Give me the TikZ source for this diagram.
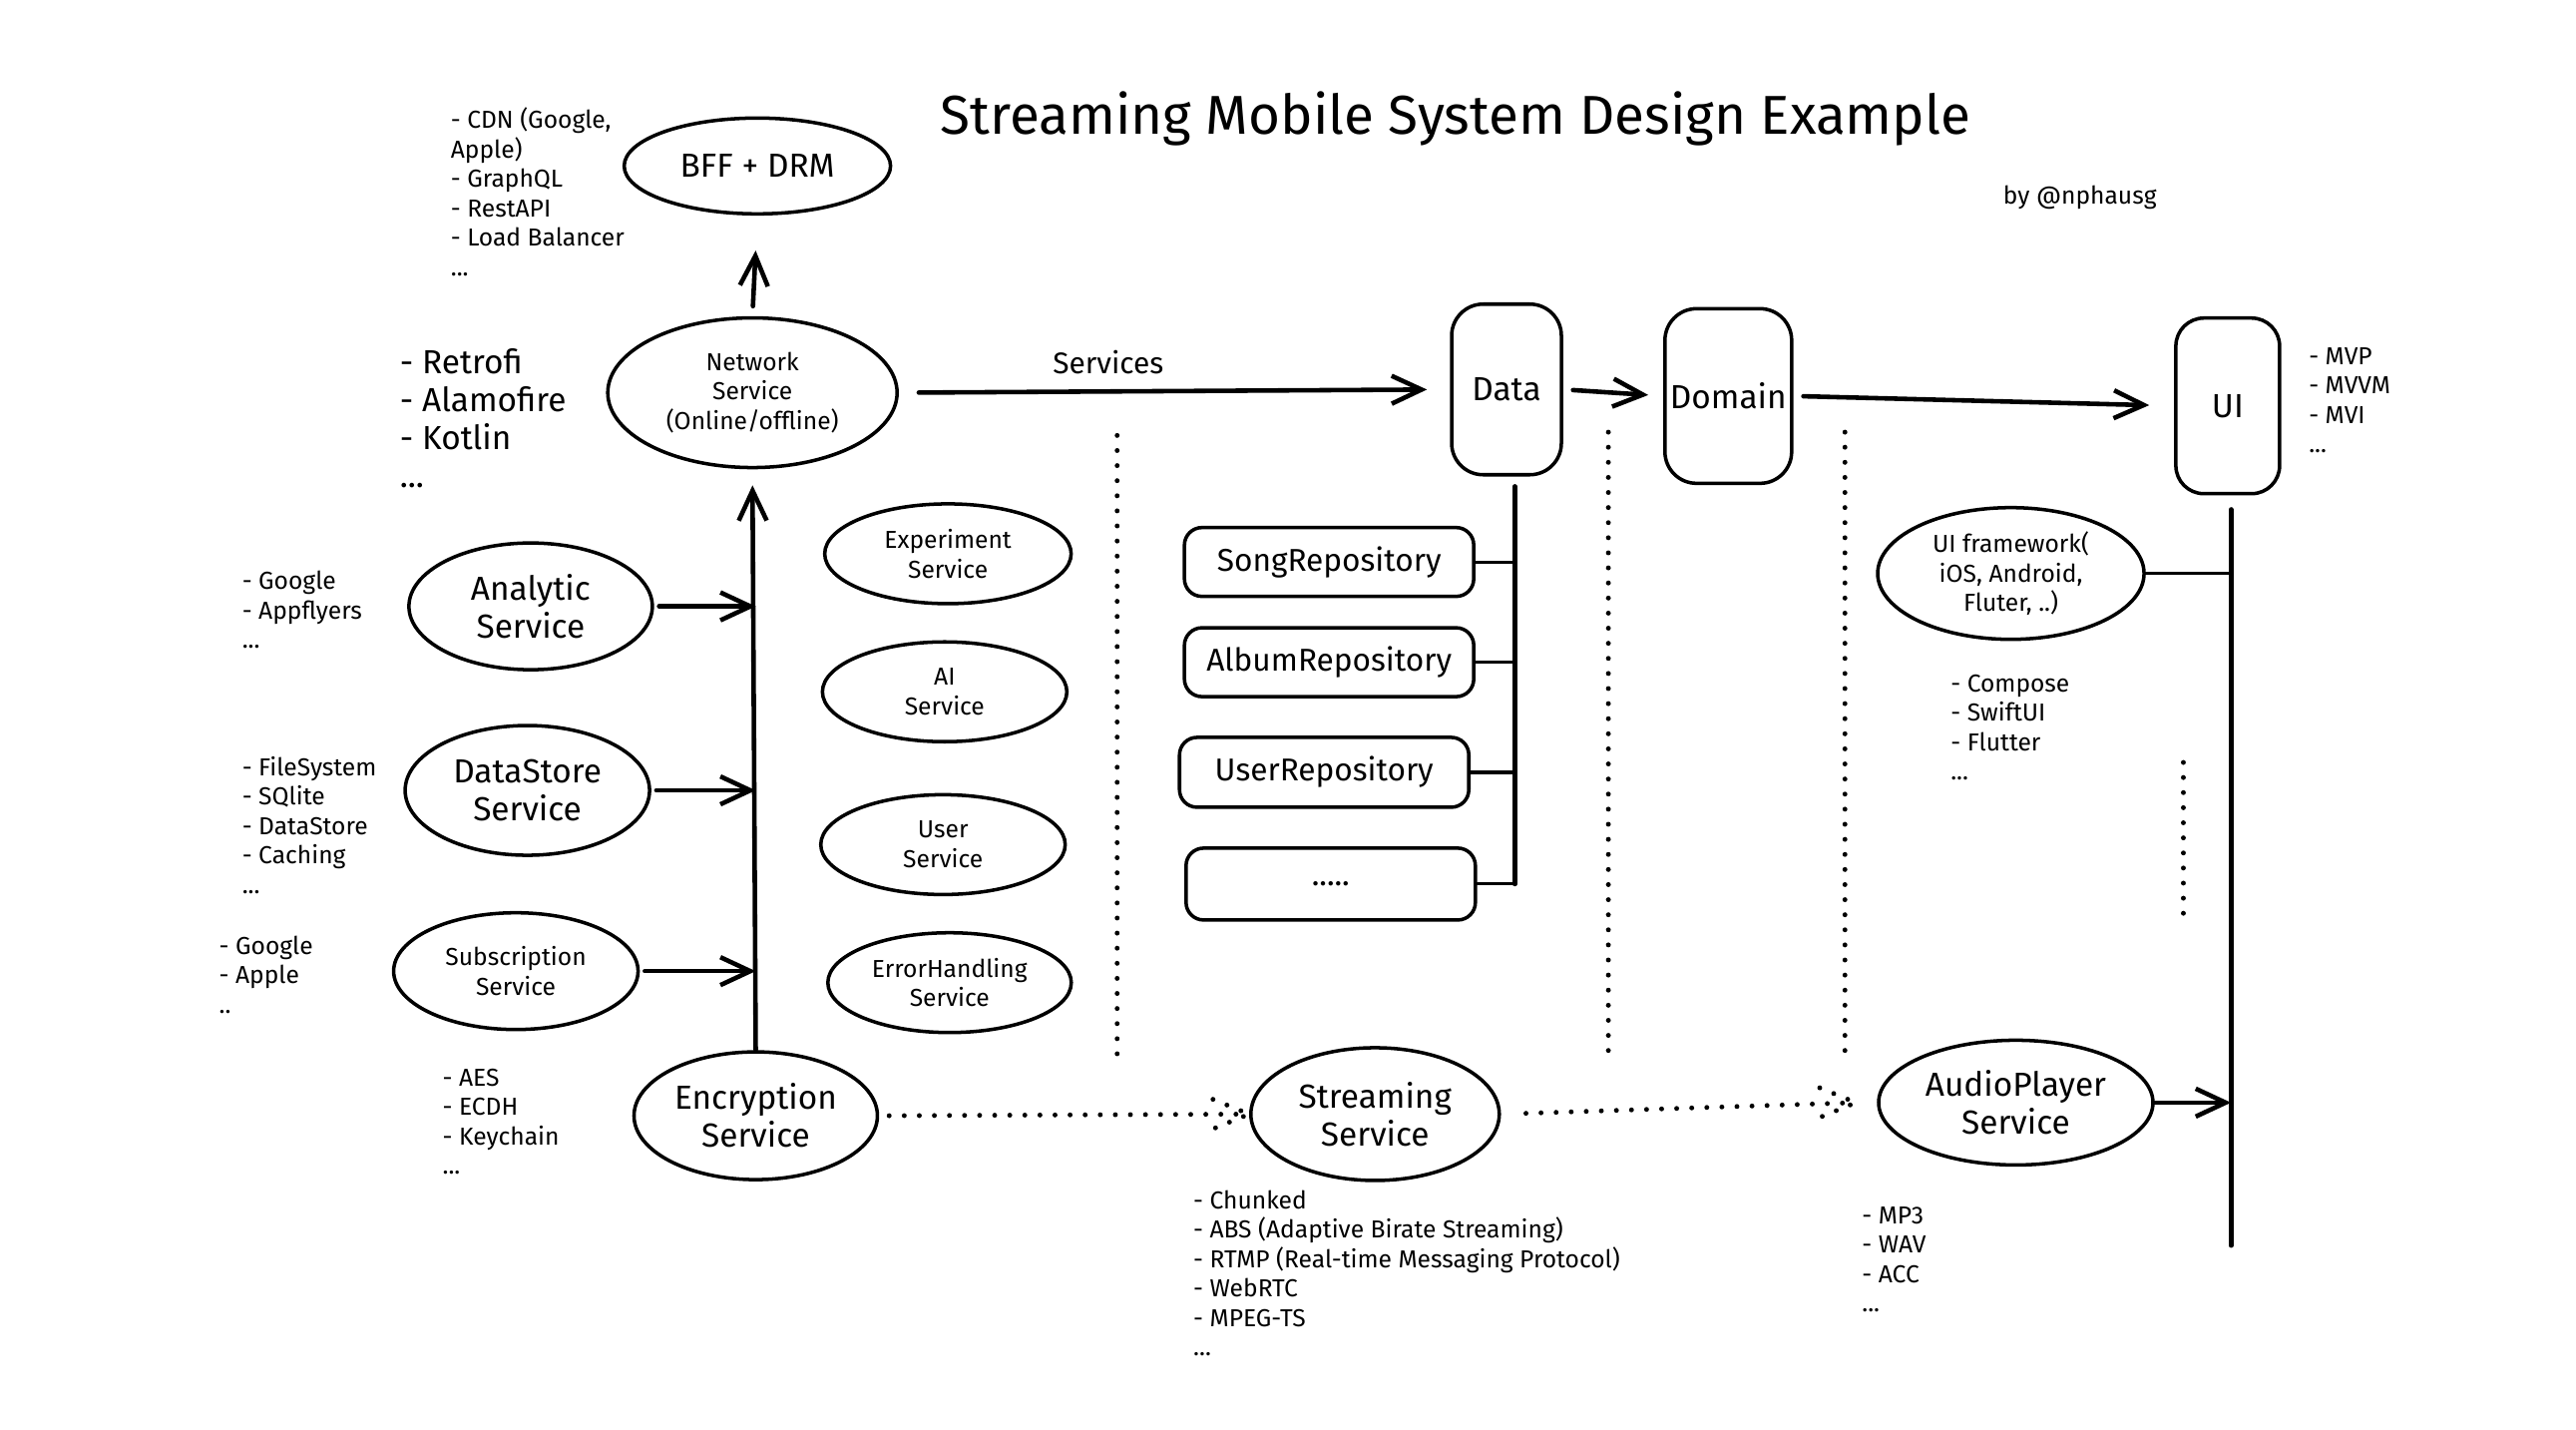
\documentclass[tikz,border=0pt]{standalone}
\usepackage{fontspec}
\setmainfont{Fira Sans}
\usetikzlibrary{arrows.meta,shapes.geometric}

\tikzset{
  oval/.style={draw,ellipse,line width=1pt,inner sep=0pt,align=center},
  card/.style={draw,line width=1pt,inner sep=0pt,align=center},
  notes/.style={align=left,anchor=north west,inner sep=0pt,font=\fontsize{7}{8.4}\selectfont},
  bigtext/.style={font=\fontsize{9.5}{10.8}\selectfont},
  smalltext/.style={font=\fontsize{7}{8.4}\selectfont},
  repo/.style={card,font=\fontsize{9}{10.8}\selectfont,rounded corners=5pt,minimum width=2.90cm},
  link/.style={line width=1.3pt},
  branch/.style={line width=0.9pt},
  dots/.style={line width=1.4pt,dash pattern=on 0pt off 4.3pt,line cap=round},
}

\begin{document}
\begin{tikzpicture}[x=0.16467mm,y=-0.16467mm,>={Straight Barb[length=3mm,width=2.8mm]},line cap=round]
\useasboundingbox (0,0) rectangle (1568,870);

% title
\node (title) at (886,72) {\fontsize{15.6}{19}\selectfont Streaming Mobile System Design Example};
\node[smalltext] (author) at (1266,120) {by @nphausg};

% network side
\node[oval,bigtext,minimum width=2.67cm,minimum height=0.96cm] (bff) at (461,101) {BFF + DRM};
\node[notes] (cdnlist) at (274,65) {- CDN (Google,\\Apple)\\- GraphQL\\- RestAPI\\- Load Balancer\\...};
\node[oval,smalltext,minimum width=2.90cm,minimum height=1.50cm] (net) at (458,239) {Network\\Service\\(Online/offline)};
\node[notes,font=\fontsize{9.5}{10.8}\selectfont] (netlist) at (243,212) {- Retrofi\\- Alamofire\\- Kotlin\\...};

% left services
\node[oval,bigtext,minimum width=2.44cm,minimum height=1.27cm] (analytic) at (323,369) {Analytic\\Service};
\node[notes] (analyticlist) at (147,347) {- Google\\- Appflyers\\...};
\node[oval,bigtext,minimum width=2.45cm,minimum height=1.30cm] (datastore) at (321,481) {DataStore\\Service};
\node[notes] (datastorelist) at (147,460) {- FileSystem\\- SQlite\\- DataStore\\- Caching\\...};
\node[oval,smalltext,minimum width=2.45cm,minimum height=1.17cm] (subscription) at (314,591) {Subscription\\Service};
\node[notes] (subscriptionlist) at (133,569) {- Google\\- Apple\\..};
\node[oval,bigtext,minimum width=2.44cm,minimum height=1.28cm] (enc) at (460,679) {Encryption\\Service};
\node[notes] (enclist) at (269,650) {- AES\\- ECDH\\- Keychain\\...};

% middle services
\node[oval,smalltext,minimum width=2.47cm,minimum height=1.0cm] (experiment) at (577,337) {Experiment\\Service};
\node[oval,smalltext,minimum width=2.45cm,minimum height=1.0cm] (ai) at (575,421) {AI\\Service};
\node[oval,smalltext,minimum width=2.45cm,minimum height=1.0cm] (user) at (574,514) {User\\Service};
\node[oval,smalltext,minimum width=2.44cm,minimum height=1.0cm] (err) at (578,598) {ErrorHandling\\Service};

% layers
\node[card,bigtext,rounded corners=9pt,minimum width=1.10cm,minimum height=1.71cm] (data) at (917,237) {Data};
\node[card,bigtext,rounded corners=9pt,minimum width=1.27cm,minimum height=1.75cm] (domain) at (1052,241) {Domain};
\node[card,bigtext,rounded corners=8pt,minimum width=1.04cm,minimum height=1.76cm] (ui) at (1356,247) {UI};
\node[notes] (uilist) at (1405,211) {- MVP\\- MVVM\\- MVI\\...};

% repositories
\node[repo,minimum height=0.69cm] (songrepo) at (809,342) {SongRepository};
\node[repo,minimum height=0.69cm] (albumrepo) at (809,403) {AlbumRepository};
\node[repo,minimum height=0.70cm] (userrepo) at (806,470) {UserRepository};
\node[repo,minimum height=0.72cm] (morerepo) at (810,538) {.....};

% playback
\node[oval,bigtext,minimum width=2.49cm,minimum height=1.33cm] (stream) at (837,678) {Streaming\\Service};
\node[notes] (streamlist) at (726,724) {- Chunked\\- ABS (Adaptive Birate Streaming)\\- RTMP (Real-time Messaging Protocol)\\- WebRTC\\- MPEG-TS\\...};
\node[oval,bigtext,minimum width=2.75cm,minimum height=1.25cm] (audio) at (1227,671) {AudioPlayer\\Service};
\node[notes] (audiolist) at (1133,734) {- MP3\\- WAV\\- ACC\\...};
\node[oval,smalltext,minimum width=2.67cm,minimum height=1.32cm] (uifw) at (1224,349) {UI framework(\\iOS, Android,\\Fluter, ..)};
\node[notes] (uifwlist) at (1187,410) {- Compose\\- SwiftUI\\- Flutter\\...};

% dividers
\draw[dots] (680,265) -- (680,648);
\draw[dots] (979,263) -- (979,644);
\draw[dots] (1123,263) -- (1123,644);
\draw[dots] (1329,464) -- (1329,562);

% connectors
\draw[link,->,shorten <=1mm,shorten >=3.5mm] (net.north) -- (bff.south);
\draw[link,->,shorten <=2mm,shorten >=2.3mm] (net.east) -- node[pos=0.38,above=1pt,font=\fontsize{8.5}{10}\selectfont]{Services} (data.west);
\draw[link,->,shorten <=1mm,shorten >=1.5mm] (data.east) -- (domain.west);
\draw[link,->,shorten <=1mm,shorten >=2.5mm] (domain.east) -- (ui.west);

\draw[link,->,shorten >=1.6mm] (enc.north) -- (net.south);
\foreach \s in {analytic,datastore,subscription}
  \draw[link,->,shorten <=0.5mm] (\s.east) -- (\s.east -| enc.north);

\coordinate (dtop) at (922,296);
\coordinate (dbot) at (922,538);
\draw[link] (dtop) -- (dbot);
\foreach \r in {songrepo,albumrepo,userrepo,morerepo}
  \draw[branch] (\r.east) -- (\r.east -| dtop);

\coordinate (uitop) at (1358,310);
\coordinate (uibot) at (1358,758);
\draw[link] (uitop) -- (uibot);
\draw[branch] (uifw.east) -- (uifw.east -| uitop);
\draw[link,->] (audio.east) -- (audio.east -| uitop);

% dotted flow
\coordinate (atip) at ([xshift=-2.1mm]audio.west);
\draw[dots,shorten <=1mm] (enc.east) -- (stream.west);
\draw[dots] (stream.west) ++(-22,-9) -- (stream.west) -- ++(-22,9);
\draw[dots,shorten <=2.5mm] (stream.east) -- (atip);
\draw[dots] (atip) ++(-22,-9) -- (atip) -- ++(-22,9);
\end{tikzpicture}
\end{document}
